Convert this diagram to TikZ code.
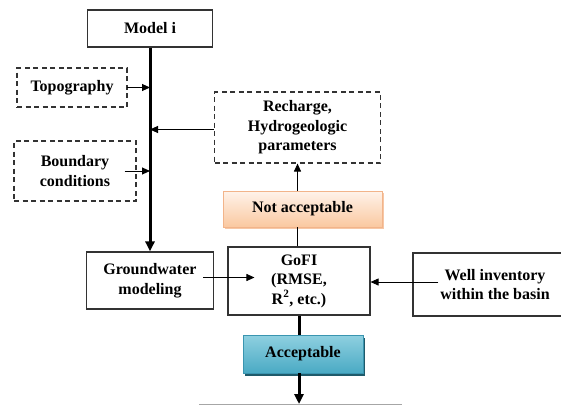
\documentclass[tikz,border=0pt]{standalone}
\usepackage{fontspec}
\setmainfont{Liberation Serif}
\usetikzlibrary{arrows.meta,shadows}
\definecolor{peachtop}{HTML}{FFF3EA}
\definecolor{peachbot}{HTML}{FAC8A0}
\definecolor{peachdraw}{HTML}{F2B48A}
\definecolor{peachshadow}{HTML}{F6C7A6}
\definecolor{tealtop}{HTML}{8FD0E0}
\definecolor{tealbot}{HTML}{4AAAC4}
\definecolor{tealdraw}{HTML}{3A95B0}
\definecolor{tealshadow}{HTML}{1F5A6A}
\begin{document}
\begin{tikzpicture}[x=1pt,y=-1pt,
  font=\bfseries\fontsize{16}{19.5}\selectfont,
  solidbox/.style={draw=black!80, line width=1.1pt, rectangle, inner sep=0pt, align=center},
  dashbox/.style={solidbox, dash pattern=on 5pt off 3.5pt},
  arr/.style={-{Triangle[length=8pt,width=7pt]}, line width=0.9pt},
  thickarr/.style={-{Triangle[length=10pt,width=9pt]}, line width=3pt},
  thickline/.style={line width=3pt},
  nabox/.style={rectangle, inner sep=0pt, align=center, draw=peachdraw, line width=0.8pt,
    top color=peachtop, bottom color=peachbot,
    drop shadow={shadow xshift=2pt, shadow yshift=-2pt, fill=peachshadow, opacity=1}},
  accbox/.style={rectangle, inner sep=0pt, align=center, draw=tealdraw, line width=0.8pt,
    top color=tealtop, bottom color=tealbot,
    drop shadow={shadow xshift=2pt, shadow yshift=-2.5pt, fill=tealshadow, opacity=1}}
]
\useasboundingbox (0,0) rectangle (561,405);
\clip (0,0) rectangle (561,405);

\node[solidbox, minimum width=125pt, minimum height=37pt] (model) at (150,28.5) {Model i};
\node[dashbox, minimum width=110pt, minimum height=39pt] (topo) at (72,87.5) {Topography};
\node[dashbox, minimum width=122pt, minimum height=60pt] (bc) at (75,171) {Boundary\\conditions};
\node[dashbox, minimum width=166pt, minimum height=71pt] (rech) at (297.5,127.5) {Recharge,\\Hydrogeologic\\parameters};
\node[nabox, minimum width=159pt, minimum height=36pt] (na) at (302.5,209) {Not acceptable};
\node[solidbox, minimum width=127pt, minimum height=57pt] (gw) at (150,280.5) {Groundwater\\modeling};
\node[solidbox, minimum width=142pt, minimum height=68pt] (gofi) at (299,281) {GoFI\\(RMSE,\\R\textsuperscript{2}, etc.)};
\node[solidbox, minimum width=164pt, minimum height=63pt] (well) at (495,284.5) {Well inventory\\within the basin};
\node[accbox, minimum width=120pt, minimum height=38pt] (acc) at (303,354) {Acceptable};

\coordinate (bot) at (299,404);
\coordinate (lineL) at (199,404);
\coordinate (lineR) at (402,404);

% spine
\draw[thickarr] (model.south) -- (gw.north);
% inputs to spine
\draw[arr] ([xshift=-1pt]topo.east) -- (topo.east -| model.south);
\draw[arr] ([xshift=-12pt]bc.east) -- (bc.east -| model.south);
\draw[arr] ([yshift=-2pt]rech.west) -- ([yshift=-2pt]rech.west -| model.south);
% feedback
\draw[line width=0.9pt] (gofi.north -| rech.south) -- (na.south -| rech.south);
\draw[arr] (na.north -| rech.south) -- (rech.south);
% into GoFI
\coordinate (ga) at ([xshift=-11pt,yshift=3pt]gw.east);
\draw[arr] (ga) -- ([xshift=27pt]ga -| gofi.west);
\coordinate (wa) at ([xshift=26pt,yshift=2.5pt]well.west);
\draw[arr] (wa) -- (wa -| gofi.east);
% output
\draw[thickline] (gofi.south) -- (gofi.south |- acc.north);
\draw[gray!70, line width=1pt] (lineL) -- (lineR);
\draw[thickarr] (acc.south -| bot) -- (bot);
\end{tikzpicture}
\end{document}
